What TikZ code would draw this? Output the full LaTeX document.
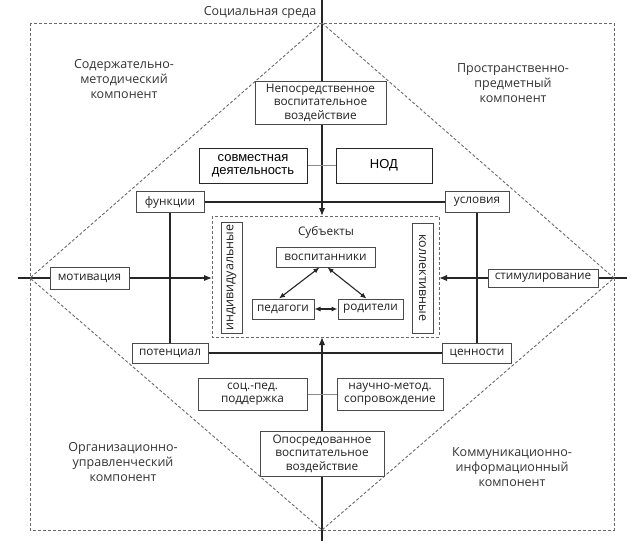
\documentclass[tikz,border=0pt]{standalone}
\usepackage{fontspec}
\setmainfont{Open Sans}
\newfontfamily\arialf{Liberation Sans}
\usetikzlibrary{arrows.meta}
\definecolor{ink}{HTML}{222222}
\definecolor{edge}{HTML}{4A4A4A}
\definecolor{dashc}{HTML}{6A6A6A}
\pgfdeclarelayer{bg}
\pgfsetlayers{bg,main}
\begin{document}
\begin{tikzpicture}[x=1pt,y=-1pt,
  txt/.style={text=ink, align=center, font=\fontsize{11.8}{13.5}\selectfont, inner sep=0pt},
  qtxt/.style={txt, font=\fontsize{12.5}{15}\selectfont, text=black!80},
  box/.style={txt, draw=edge, line width=1pt, fill=white},
  abox/.style={box, draw=black!85, text=black, font=\arialf\fontsize{13}{13}\selectfont},
  axisline/.style={draw=black!85, line width=1.5pt},
  conn/.style={draw=black!85, line width=1.2pt},
  thinconn/.style={draw=black!45, line width=0.8pt},
  dashline/.style={draw=dashc, line width=0.9pt, dash pattern=on 3pt off 2pt},
  tip/.style={-{Latex[length=8pt,width=6.5pt]}},
  dtip/.style={{Latex[length=6pt,width=5pt]}-{Latex[length=6pt,width=5pt]}, line width=1.1pt, draw=black!85}
]
\useasboundingbox (0,0) rectangle (635,549);
% frame and diamond
\draw[dashline] (30,23) rectangle (614,530);
\coordinate (dT) at (322,23);
\coordinate (dR) at (614,278);
\coordinate (dB) at (322,530);
\coordinate (dL) at (30,278);
\draw[dashline] (dT) -- (dR) -- (dB) -- (dL) -- cycle;
% inner dashed rect
\draw[dashline] (212,216) rectangle (439,337);
\coordinate (inN) at (322,216);
\coordinate (inS) at (322,337);
\coordinate (inW) at (212,278);
\coordinate (inE) at (439,278);
% axis ends
\coordinate (axT) at (322,0);
\coordinate (axB) at (322,541);
\coordinate (axL) at (18,278);
\coordinate (axR) at (627,278);
% nodes
\node[box, minimum width=131pt, minimum height=43pt] (nep) at (320.5,102.5) {Непосредственное\\воспитательное\\воздействие};
\node[abox, minimum width=108pt, minimum height=35pt] (sovm) at (253,165.5) {совместная\\деятельность};
\node[abox, minimum width=96pt, minimum height=35pt] (nod) at (384,165.5) {НОД};
\node[box, minimum width=68pt, minimum height=21pt] (func) at (170,202) {функции};
\node[box, minimum width=64pt, minimum height=21pt] (usl) at (477,202) {условия};
\node[box, minimum width=76pt, minimum height=20pt] (pot) at (170,353) {потенциал};
\node[box, minimum width=69pt, minimum height=20pt] (cen) at (477,353) {ценности};
\node[box, minimum width=79pt, minimum height=22pt] (motiv) at (89.5,278) {мотивация};
\node[box, minimum width=110pt, minimum height=18pt] (stim) at (543,278) {стимулирование};
\node[txt] (subj) at (326,232) {Субъекты};
\node[box, minimum width=99pt, minimum height=20pt] (vosp) at (325.5,257) {воспитанники};
\node[box, minimum width=62pt, minimum height=20pt] (ped) at (283,309) {педагоги};
\node[box, minimum width=65pt, minimum height=20pt] (rod) at (370.5,309) {родители};
\node[box, minimum width=111pt, minimum height=21pt, rotate=90, font=\fontsize{12.5}{14}\selectfont] (ind) at (231.5,277.5) {индивидуальные};
\node[box, minimum width=110pt, minimum height=21pt, rotate=-90, font=\fontsize{12.5}{14}\selectfont] (kol) at (422.5,278) {коллективные};
\node[box, minimum width=109pt, minimum height=32pt] (soc) at (252.5,394) {соц.-пед.\\поддержка};
\node[box, minimum width=106pt, minimum height=32pt] (nauch) at (390,394) {научно-метод.\\сопровождение};
\node[box, minimum width=124pt, minimum height=45pt] (opos) at (322,453.5) {Опосредованное\\воспитательное\\воздействие};
% quadrant labels
\node[qtxt] (q1) at (124,79) {Содержательно-\\методический\\компонент};
\node[qtxt] (q2) at (513,83) {Пространственно-\\предметный\\компонент};
\node[qtxt] (q3) at (123,462) {Организационно-\\управленческий\\компонент};
\node[qtxt] (q4) at (512,467) {Коммуникационно-\\информационный\\компонент};
\node[qtxt] (title) at (260,12) {Социальная среда};
% connectors (behind boxes)
\begin{pgfonlayer}{bg}
  \draw[axisline, tip] (axT) -- (inN);
  \draw[axisline, tip] (axB) -- (inS);
  \draw[axisline, tip] (axL) -- (inW);
  \draw[axisline, tip] (axR) -- (inE);
  \draw[conn] (func.east) -- (usl.west);
  \draw[conn] (pot.east) -- (cen.west);
  \draw[conn] (func.south) -- (pot.north);
  \draw[conn] (usl.south) -- (cen.north);
  \draw[thinconn] (sovm.east) -- (nod.west);
  \draw[thinconn] (soc.east) -- (nauch.west);
\end{pgfonlayer}
\draw[dtip] ([xshift=-6pt]vosp.south) -- ([xshift=-4pt]ped.north);
\draw[dtip] ([xshift=2pt]vosp.south) -- ([xshift=-4pt]rod.north);
\draw[dtip] (ped.east) -- (rod.west);
\end{tikzpicture}
\end{document}
